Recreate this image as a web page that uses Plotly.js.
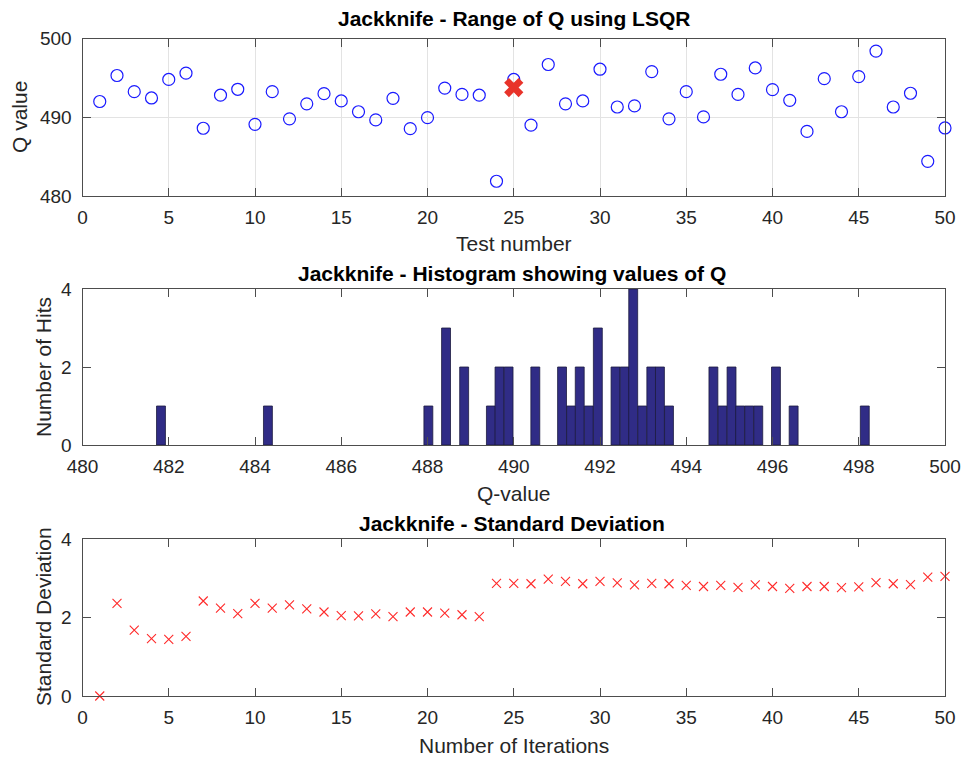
<!DOCTYPE html>
<html>
<head>
<meta charset="utf-8">
<script src="https://cdn.plot.ly/plotly-3.0.1.min.js"></script>
<style>
  html, body { margin: 0; padding: 0; background: #ffffff; }
  #chart { width: 963px; height: 757px; }
</style>
</head>
<body>
<div id="chart"></div>
<script>
// Jackknife run: Q estimated with LSQR, one test per left-out sample
const testNumber = [1, 2, 3, 4, 5, 6, 7, 8, 9, 10,
  11, 12, 13, 14, 15, 16, 17, 18, 19, 20,
  21, 22, 23, 24, 25, 26, 27, 28, 29, 30,
  31, 32, 33, 34, 35, 36, 37, 38, 39, 40,
  41, 42, 43, 44, 45, 46, 47, 48, 49, 50];

const qValues = [492.0, 495.3, 493.25, 492.45, 494.8, 495.6, 488.6, 492.8, 493.55, 489.1,
  493.25, 489.8, 491.7, 493.0, 492.07, 490.7, 489.66, 492.4, 488.55, 489.95,
  493.7, 492.9, 492.8, 481.87, 494.8, 489.0, 496.7, 491.7, 492.07, 496.1,
  491.3, 491.44, 495.8, 489.8, 493.25, 490.04, 495.46, 492.9, 496.26, 493.5,
  492.15, 488.2, 494.9, 490.7, 495.16, 498.4, 491.3, 493.05, 484.4, 488.64];

// highlighted estimate
const selectedTest = [25];
const selectedQ = [493.77];

// histogram bins of Q (centres) and counts
const binCenters = [481.82, 484.30, 488.02, 488.43, 488.85, 489.47, 489.67, 489.88,
  490.50, 491.12, 491.33, 491.53, 491.74, 491.95, 492.36, 492.57, 492.77, 492.98,
  493.19, 493.39, 493.60, 494.63, 494.84, 495.05, 495.25, 495.46, 495.67, 496.08,
  496.49, 498.14];
const hits = [1, 1, 1, 3, 2, 1, 2, 2,
  2, 2, 1, 2, 1, 3, 2, 2, 4, 1,
  2, 2, 1, 2, 1, 2, 1, 1, 1, 2,
  1, 1];
const binWidth = 0.2066;

// running standard deviation over iterations
const iterations = testNumber;
const stdDev = [0.0, 2.36, 1.68, 1.46, 1.44, 1.52, 2.42, 2.24, 2.10, 2.36,
  2.24, 2.32, 2.22, 2.14, 2.05, 2.04, 2.09, 2.02, 2.14, 2.14,
  2.11, 2.07, 2.02, 2.87, 2.87, 2.86, 2.98, 2.92, 2.86, 2.92,
  2.88, 2.83, 2.87, 2.86, 2.82, 2.79, 2.82, 2.77, 2.83, 2.79,
  2.74, 2.79, 2.79, 2.76, 2.78, 2.89, 2.86, 2.84, 3.03, 3.05];

const W = 963, H = 757;
const px = x => x / W;
const py = y => 1 - y / H;

const FONT = '"Liberation Sans", Arial, Helvetica, sans-serif';
const tickFont = { family: FONT, size: 19, color: '#262626' };
const AXIS = '#4d4d4d';

function axisStyle(extra) {
  return Object.assign({
    showline: true, linecolor: AXIS, linewidth: 1, mirror: 'ticks',
    ticks: 'inside', ticklen: 8, tickcolor: AXIS, tickwidth: 1,
    zeroline: false, showgrid: false, tickfont: tickFont,
    fixedrange: true, automargin: false
  }, extra);
}

const xDom = [px(82.5), px(945)];

const traces = [
  {
    x: testNumber, y: qValues, type: 'scatter', mode: 'markers',
    xaxis: 'x', yaxis: 'y',
    marker: { symbol: 'circle-open', size: 12, color: '#1a1aff', line: { width: 1.2, color: '#1a1aff' } },
    cliponaxis: false, hoverinfo: 'skip'
  },
  {
    x: selectedTest, y: selectedQ, type: 'scatter', mode: 'markers',
    xaxis: 'x', yaxis: 'y',
    marker: { symbol: 'x', size: 17, color: '#e8332a', line: { width: 0 } },
    cliponaxis: false, hoverinfo: 'skip'
  },
  {
    x: binCenters, y: hits, type: 'bar', width: binWidth,
    xaxis: 'x2', yaxis: 'y2',
    marker: { color: '#302c86', line: { color: '#1c1b3f', width: 0.8 } },
    hoverinfo: 'skip'
  },
  {
    x: iterations, y: stdDev, type: 'scatter', mode: 'markers',
    xaxis: 'x3', yaxis: 'y3',
    marker: { symbol: 'x-thin-open', size: 9, color: '#ff2a2a', line: { width: 1.1, color: '#ff2a2a' } },
    cliponaxis: false, hoverinfo: 'skip'
  }
];

const titleFont = { family: FONT, size: 21, color: '#000000', weight: 'bold' };
const labelFont = { family: FONT, size: 21, color: '#262626' };

function note(text, x, y, font, angle) {
  return {
    text: text, xref: 'paper', yref: 'paper', x: px(x), y: py(y),
    xanchor: 'center', yanchor: 'middle', showarrow: false,
    font: font, textangle: angle || 0
  };
}

const layout = {
  width: W, height: H,
  margin: { l: 0, r: 0, t: 0, b: 0, pad: 0 },
  paper_bgcolor: '#ffffff', plot_bgcolor: '#ffffff',
  showlegend: false, bargap: 0,
  xaxis: axisStyle({ domain: xDom, anchor: 'y', range: [0, 50], dtick: 5, tick0: 0,
    showgrid: true, gridcolor: '#e3e3e3', gridwidth: 1, ticklabelstandoff: 4 }),
  yaxis: axisStyle({ domain: [py(196), py(38.5)], anchor: 'x', range: [480, 500], dtick: 10, tick0: 480,
    showgrid: true, gridcolor: '#e3e3e3', gridwidth: 1, ticklabelstandoff: 6 }),
  xaxis2: axisStyle({ domain: xDom, anchor: 'y2', range: [480, 500], dtick: 2, tick0: 480, ticklabelstandoff: 4 }),
  yaxis2: axisStyle({ domain: [py(445), py(289)], anchor: 'x2', range: [0, 4], dtick: 2, tick0: 0, ticklabelstandoff: 6 }),
  xaxis3: axisStyle({ domain: xDom, anchor: 'y3', range: [0, 50], dtick: 5, tick0: 0, ticklabelstandoff: 4 }),
  yaxis3: axisStyle({ domain: [py(696), py(539)], anchor: 'x3', range: [0, 4], dtick: 2, tick0: 0, ticklabelstandoff: 6 }),
  annotations: [
    note('Jackknife - Range of Q using LSQR', 514, 19, titleFont),
    note('Jackknife - Histogram showing values of Q', 512, 273, titleFont),
    note('Jackknife - Standard Deviation', 512, 523, titleFont),
    note('Q value', 20, 117, labelFont, -90),
    note('Test number', 514, 243, labelFont),
    note('Number of Hits', 43, 367, labelFont, -90),
    note('Q-value', 514, 494, labelFont),
    note('Standard Deviation', 43, 617, labelFont, -90),
    note('Number of Iterations', 514, 745, labelFont)
  ]
};

Plotly.newPlot('chart', traces, layout, { displayModeBar: false, staticPlot: true });
</script>
</body>
</html>
